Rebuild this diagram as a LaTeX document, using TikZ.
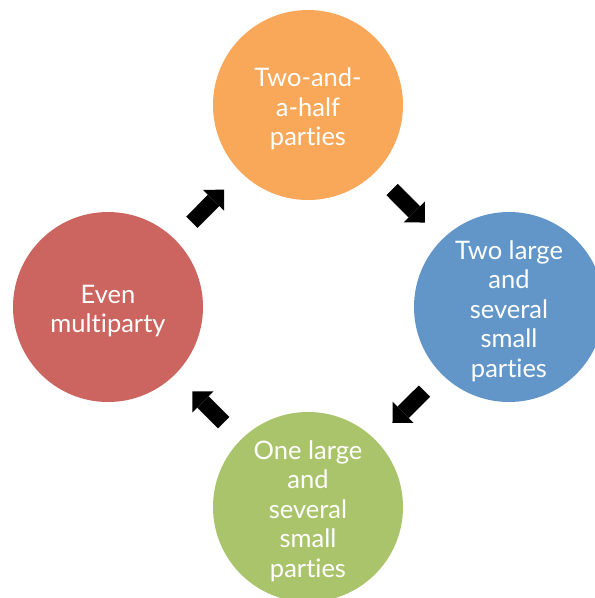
\documentclass[tikz,border=0pt]{standalone}
\usepackage{fontspec}
\setmainfont{Lato}[Ligatures={NoCommon}]
\usetikzlibrary{arrows.meta}
\definecolor{corange}{HTML}{F9A85A}
\definecolor{cblue}{HTML}{6296C8}
\definecolor{cred}{HTML}{CC6460}
\definecolor{cgreen}{HTML}{AAC46C}
\begin{document}
\begin{tikzpicture}[x=1pt,y=-1pt,
  bubble/.style={circle, minimum size=190pt, inner sep=0pt},
  lbl/.style={text=white, align=center, yshift=-4pt,
    font=\fontsize{25.5}{29.5}\selectfont},
  blk/.style={line width=16pt, -{Triangle[length=15pt,width=30pt,line width=0pt]},
    shorten <=24pt, shorten >=24pt}]
\useasboundingbox (0,0) rectangle (595,598);
\node[bubble, fill=corange, label={[lbl]center:{Two-and-\\a-half\\parties}}] (top) at (308,105) {};
\node[bubble, fill=cblue, label={[lbl]center:{Two large\\and\\several\\small\\parties}}] (right) at (509,307) {};
\node[bubble, fill=cgreen, label={[lbl]center:{One large\\and\\several\\small\\parties}}] (bottom) at (308,507) {};
\node[bubble, fill=cred, label={[lbl]center:{Even\\multiparty}}] (left) at (108,307) {};
\draw[blk] (top) -- (right);
\draw[blk] (right) -- (bottom);
\draw[blk] (bottom) -- (left);
\draw[blk] (left) -- (top);
\end{tikzpicture}
\end{document}
